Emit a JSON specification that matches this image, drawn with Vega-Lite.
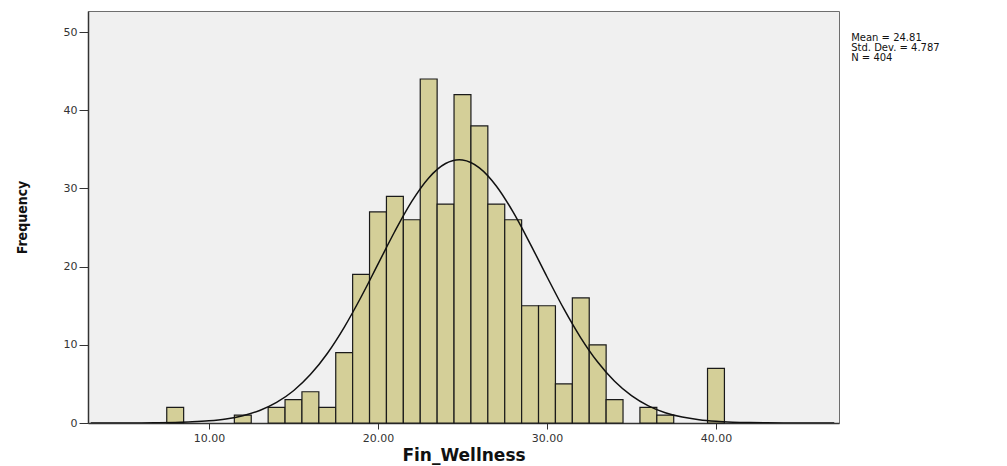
{
  "$schema": "https://vega.github.io/schema/vega-lite/v6.json",
  "width": 751,
  "height": 412,
  "autosize": {"type": "none"},
  "padding": {"left": 88, "top": 11, "right": 168, "bottom": 43},
  "background": "white",
  "config": {
    "view": {"fill": "#F0F0F0", "stroke": "#6E6E6E", "strokeWidth": 1},
    "font": "DejaVu Sans"
  },
  "datasets": {
    "hist": [
      {"bin_start": 7.5, "bin_end": 8.5, "count": 2},
      {"bin_start": 11.5, "bin_end": 12.5, "count": 1},
      {"bin_start": 13.5, "bin_end": 14.5, "count": 2},
      {"bin_start": 14.5, "bin_end": 15.5, "count": 3},
      {"bin_start": 15.5, "bin_end": 16.5, "count": 4},
      {"bin_start": 16.5, "bin_end": 17.5, "count": 2},
      {"bin_start": 17.5, "bin_end": 18.5, "count": 9},
      {"bin_start": 18.5, "bin_end": 19.5, "count": 19},
      {"bin_start": 19.5, "bin_end": 20.5, "count": 27},
      {"bin_start": 20.5, "bin_end": 21.5, "count": 29},
      {"bin_start": 21.5, "bin_end": 22.5, "count": 26},
      {"bin_start": 22.5, "bin_end": 23.5, "count": 44},
      {"bin_start": 23.5, "bin_end": 24.5, "count": 28},
      {"bin_start": 24.5, "bin_end": 25.5, "count": 42},
      {"bin_start": 25.5, "bin_end": 26.5, "count": 38},
      {"bin_start": 26.5, "bin_end": 27.5, "count": 28},
      {"bin_start": 27.5, "bin_end": 28.5, "count": 26},
      {"bin_start": 28.5, "bin_end": 29.5, "count": 15},
      {"bin_start": 29.5, "bin_end": 30.5, "count": 15},
      {"bin_start": 30.5, "bin_end": 31.5, "count": 5},
      {"bin_start": 31.5, "bin_end": 32.5, "count": 16},
      {"bin_start": 32.5, "bin_end": 33.5, "count": 10},
      {"bin_start": 33.5, "bin_end": 34.5, "count": 3},
      {"bin_start": 35.5, "bin_end": 36.5, "count": 2},
      {"bin_start": 36.5, "bin_end": 37.5, "count": 1},
      {"bin_start": 39.5, "bin_end": 40.5, "count": 7}
    ],
    "curve": [
      {"x": 3, "density": 0.001},
      {"x": 4, "density": 0.0027},
      {"x": 5, "density": 0.0064},
      {"x": 6, "density": 0.015},
      {"x": 7, "density": 0.033},
      {"x": 8, "density": 0.071},
      {"x": 9, "density": 0.144},
      {"x": 10, "density": 0.281},
      {"x": 11, "density": 0.525},
      {"x": 12, "density": 0.938},
      {"x": 13, "density": 1.605},
      {"x": 14, "density": 2.629},
      {"x": 15, "density": 4.124},
      {"x": 16, "density": 6.19},
      {"x": 17, "density": 8.896},
      {"x": 18, "density": 12.24},
      {"x": 19, "density": 16.119},
      {"x": 20, "density": 20.325},
      {"x": 21, "density": 24.529},
      {"x": 22, "density": 28.341},
      {"x": 23, "density": 31.347},
      {"x": 24, "density": 33.191},
      {"x": 24.81, "density": 33.67},
      {"x": 25, "density": 33.643},
      {"x": 26, "density": 32.645},
      {"x": 27, "density": 30.325},
      {"x": 28, "density": 26.966},
      {"x": 29, "density": 22.956},
      {"x": 30, "density": 18.707},
      {"x": 31, "density": 14.593},
      {"x": 32, "density": 10.898},
      {"x": 33, "density": 7.792},
      {"x": 34, "density": 5.333},
      {"x": 35, "density": 3.494},
      {"x": 36, "density": 2.191},
      {"x": 37, "density": 1.316},
      {"x": 38, "density": 0.756},
      {"x": 39, "density": 0.416},
      {"x": 40, "density": 0.219},
      {"x": 41, "density": 0.11},
      {"x": 42, "density": 0.053},
      {"x": 43, "density": 0.025},
      {"x": 44, "density": 0.011},
      {"x": 45, "density": 0.0046},
      {"x": 46, "density": 0.0019},
      {"x": 47, "density": 0.0007}
    ]
  },
  "layer": [
    {
      "data": {"name": "hist"},
      "mark": {"type": "bar", "fill": "#D4CF98", "stroke": "#1A1A1A", "strokeWidth": 1.2},
      "encoding": {
        "x": {
          "field": "bin_start",
          "type": "quantitative",
          "scale": {"domain": [2.84, 47.28], "nice": false, "zero": false},
          "axis": {
            "values": [10, 20, 30, 40],
            "format": ".2f",
            "grid": false,
            "labelFontSize": 11,
            "labelColor": "#333333",
            "labelPadding": 3,
            "tickSize": 6,
            "tickColor": "#333333",
            "domainColor": "#333333",
            "domainWidth": 1.5,
            "title": "Fin_Wellness",
            "titleFont": "DejaVu Sans",
            "titleFontSize": 17,
            "titleFontWeight": "bold",
            "titleColor": "#111111",
            "titlePadding": 4
          }
        },
        "x2": {"field": "bin_end"},
        "y": {
          "field": "count",
          "type": "quantitative",
          "scale": {"domain": [0, 52.7], "nice": false},
          "axis": {
            "values": [0, 10, 20, 30, 40, 50],
            "grid": false,
            "labelFontSize": 11,
            "labelColor": "#333333",
            "labelPadding": 2,
            "tickSize": 9,
            "tickColor": "#333333",
            "domainColor": "#333333",
            "domainWidth": 1.5,
            "title": "Frequency",
            "titleFont": "Liberation Sans Narrow, DejaVu Sans Condensed",
            "titleFontSize": 14,
            "titleFontWeight": "bold",
            "titleColor": "#111111",
            "titlePadding": 34
          }
        },
        "y2": {"datum": 0}
      }
    },
    {
      "data": {"name": "curve"},
      "mark": {"type": "line", "color": "#111111", "strokeWidth": 1.5, "interpolate": "monotone", "clip": true},
      "encoding": {
        "x": {"field": "x", "type": "quantitative"},
        "y": {"field": "density", "type": "quantitative"}
      }
    },
    {
      "data": {"values": [{}]},
      "mark": {"type": "text", "align": "left", "baseline": "top", "fontSize": 10, "lineHeight": 10, "color": "#111111", "font": "DejaVu Sans"},
      "encoding": {
        "x": {"datum": 48},
        "y": {"datum": 49.9},
        "text": {"value": ["Mean = 24.81", "Std. Dev. = 4.787", "N = 404"]}
      }
    }
  ]
}
